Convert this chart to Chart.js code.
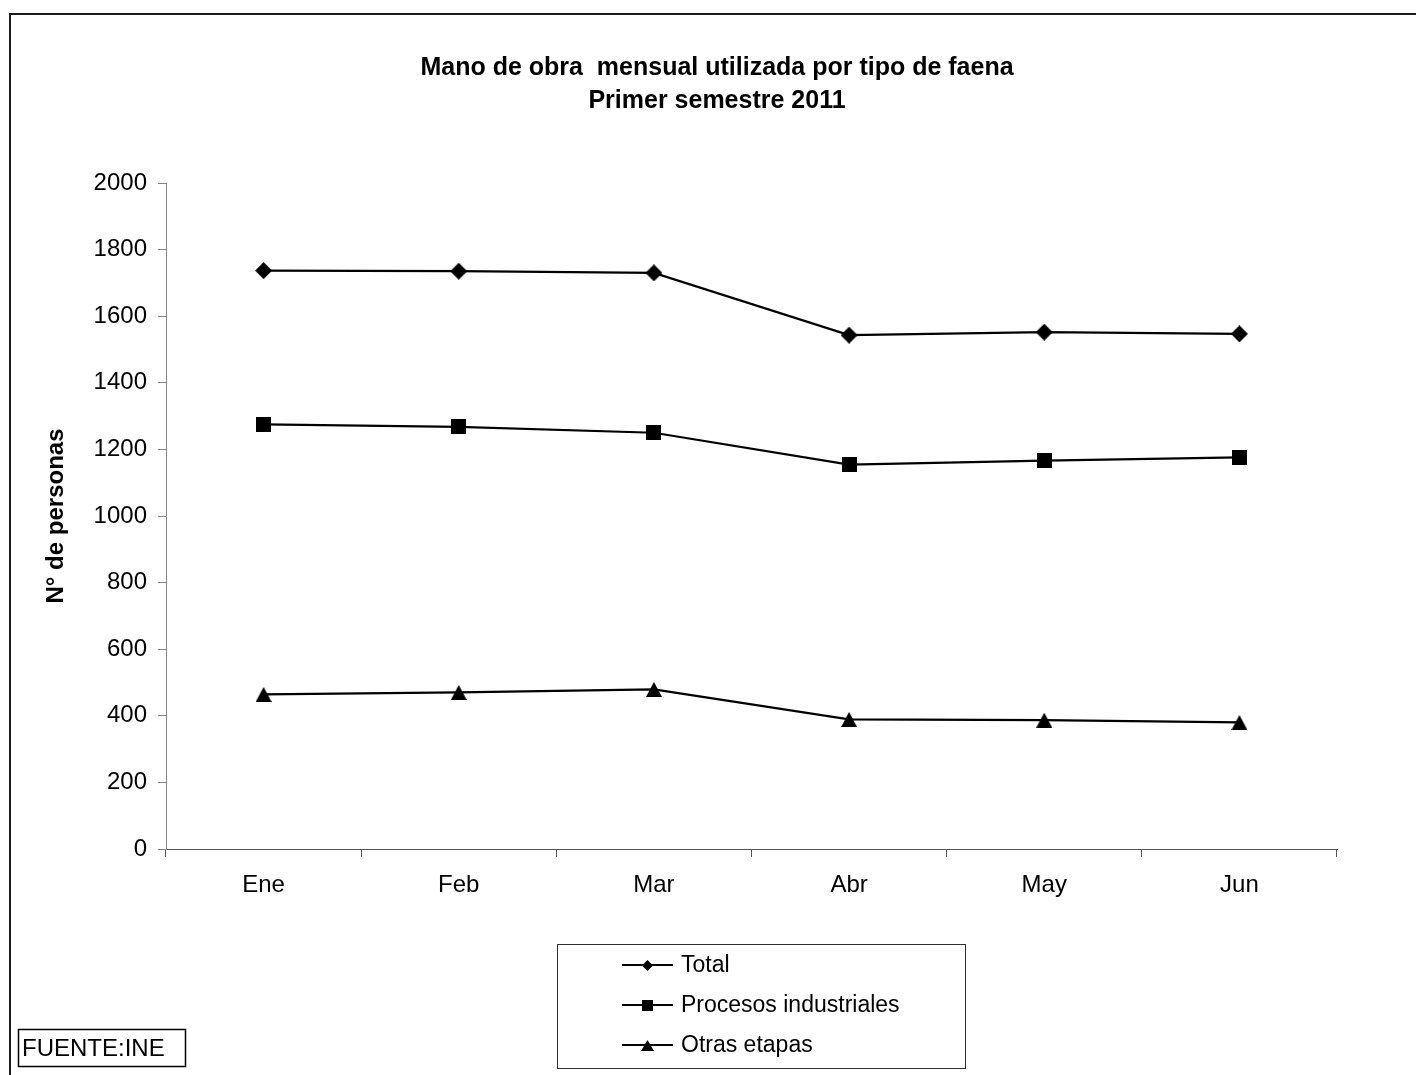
<!DOCTYPE html>
<html><head><meta charset="utf-8">
<script src="https://cdn.jsdelivr.net/npm/chart.js@4.4.0/dist/chart.umd.min.js"></script>
<style>html,body{margin:0;padding:0;background:#fff;overflow:hidden;} canvas{display:block;}</style>
</head><body>
<canvas id="c" width="1416" height="1075"></canvas>
<script>
const months = ['Ene','Feb','Mar','Abr','May','Jun'];
const seriesNames = ['Total','Procesos industriales','Otras etapas'];
const totalValues = [1737,1735,1730,1543,1552,1547];
const procesosValues = [1275,1268,1250,1154,1166,1176];
const otrasValues = [464,470,479,389,387,380];
const yMin = 0, yMax = 2000, yStep = 200;
const titleLines = ['Mano de obra  mensual utilizada por tipo de faena','Primer semestre 2011'];
const yTitle = 'N° de personas';
const sourceText = 'FUENTE:INE';

const FONT = '"Liberation Sans", Arial, Helvetica, sans-serif';

function marker(shape, w, h) {
  const c = document.createElement('canvas');
  c.width = w; c.height = h;
  const g = c.getContext('2d');
  g.fillStyle = '#000';
  g.beginPath();
  if (shape === 'diamond') { g.moveTo(w/2,0); g.lineTo(w,h/2); g.lineTo(w/2,h); g.lineTo(0,h/2); }
  else if (shape === 'square') { g.rect(0,0,w,h); }
  else { g.moveTo(w/2,0); g.lineTo(w,h); g.lineTo(0,h); }
  g.closePath(); g.fill();
  return c;
}

const chartMarkers = [marker('diamond',17,17), marker('square',15,15), marker('triangle',16,15)];
const legendMarkers = [marker('diamond',11,11), marker('square',11,11), marker('triangle',13,11)];

const frameAndExtras = {
  id: 'frameAndExtras',
  beforeDraw(chart) {
    const ctx = chart.ctx;
    ctx.save();
    ctx.fillStyle = '#fff';
    ctx.fillRect(0,0,chart.width,chart.height);
    ctx.strokeStyle = '#1a1a1a';
    ctx.lineWidth = 2;
    ctx.strokeRect(10, 14, 1500, 1500);
    ctx.restore();
  },
  afterDraw(chart) {
    const ctx = chart.ctx;
    ctx.save();
    // title
    ctx.fillStyle = '#000';
    ctx.font = 'bold 25px ' + FONT;
    ctx.textAlign = 'center';
    ctx.textBaseline = 'middle';
    titleLines.forEach((t, i) => ctx.fillText(t, 717, 68 + i * 33));
    // legend box
    ctx.textAlign = 'left';
    ctx.fillStyle = '#fff';
    ctx.fillRect(558, 945, 407, 123);
    ctx.strokeStyle = '#303030';
    ctx.lineWidth = 1;
    ctx.strokeRect(557.5, 944.5, 408, 124);
    const ys = [965, 1005, 1045];
    chart.data.datasets.forEach((ds, i) => {
      const y = ys[i];
      ctx.strokeStyle = '#000';
      ctx.lineWidth = 2;
      ctx.beginPath(); ctx.moveTo(622, y); ctx.lineTo(673, y); ctx.stroke();
      const m = legendMarkers[i];
      ctx.drawImage(m, Math.round(647.5 - m.width/2), Math.round(y - m.height/2));
      ctx.fillStyle = '#000';
      ctx.font = '23px ' + FONT;
      ctx.textBaseline = 'middle';
      ctx.textAlign = 'left';
      ctx.fillText(ds.label, 681, y + 1);
    });
    // source box
    ctx.fillStyle = '#fff';
    ctx.fillRect(18, 1029, 168, 38);
    ctx.strokeStyle = '#000';
    ctx.lineWidth = 1.5;
    ctx.strokeRect(18.5, 1029.5, 167, 37);
    ctx.fillStyle = '#000';
    ctx.font = '24px ' + FONT;
    ctx.textBaseline = 'middle';
    ctx.fillText(sourceText, 22, 1049);
    ctx.restore();
  }
};

const lineStyle = (label, data, i) => ({
  label, data,
  borderColor: '#000', backgroundColor: '#000',
  borderWidth: 2.25, tension: 0,
  pointStyle: chartMarkers[i], pointRadius: 8, pointHoverRadius: 8
});

new Chart(document.getElementById('c'), {
  type: 'line',
  data: {
    labels: months,
    datasets: [
      lineStyle(seriesNames[0], totalValues, 0),
      lineStyle(seriesNames[1], procesosValues, 1),
      lineStyle(seriesNames[2], otrasValues, 2)
    ]
  },
  options: {
    responsive: false,
    animation: false,
    devicePixelRatio: 1,
    events: [],
    layout: { padding: { left: 0, right: 79, top: 183, bottom: 0 } },
    plugins: {
      legend: { display: false },
      tooltip: { enabled: false },
      title: { display: false }
    },
    scales: {
      x: {
        offset: true,
        grid: { offset: true, drawOnChartArea: false, drawTicks: true, tickLength: 8, color: '#555', tickWidth: 1 },
        border: { display: true, color: '#555', width: 1 },
        ticks: { color: '#000', font: { family: FONT, size: 24 }, padding: 14, maxRotation: 0 },
        afterFit(scale) { scale.height = 226; }
      },
      y: {
        min: yMin, max: yMax,
        grid: { drawOnChartArea: false, drawTicks: true, tickLength: 8, color: '#868686' },
        border: { display: true, color: '#868686', width: 1 },
        ticks: { stepSize: yStep, color: '#000', font: { family: FONT, size: 24 }, padding: 11, callback: v => String(v) },
        title: { display: true, text: yTitle, color: '#000', font: { family: FONT, size: 24, weight: 'bold' }, padding: { top: 42, bottom: 0 } },
        afterFit(scale) { scale.width = 166; }
      }
    }
  },
  plugins: [frameAndExtras]
});
</script>
</body></html>
